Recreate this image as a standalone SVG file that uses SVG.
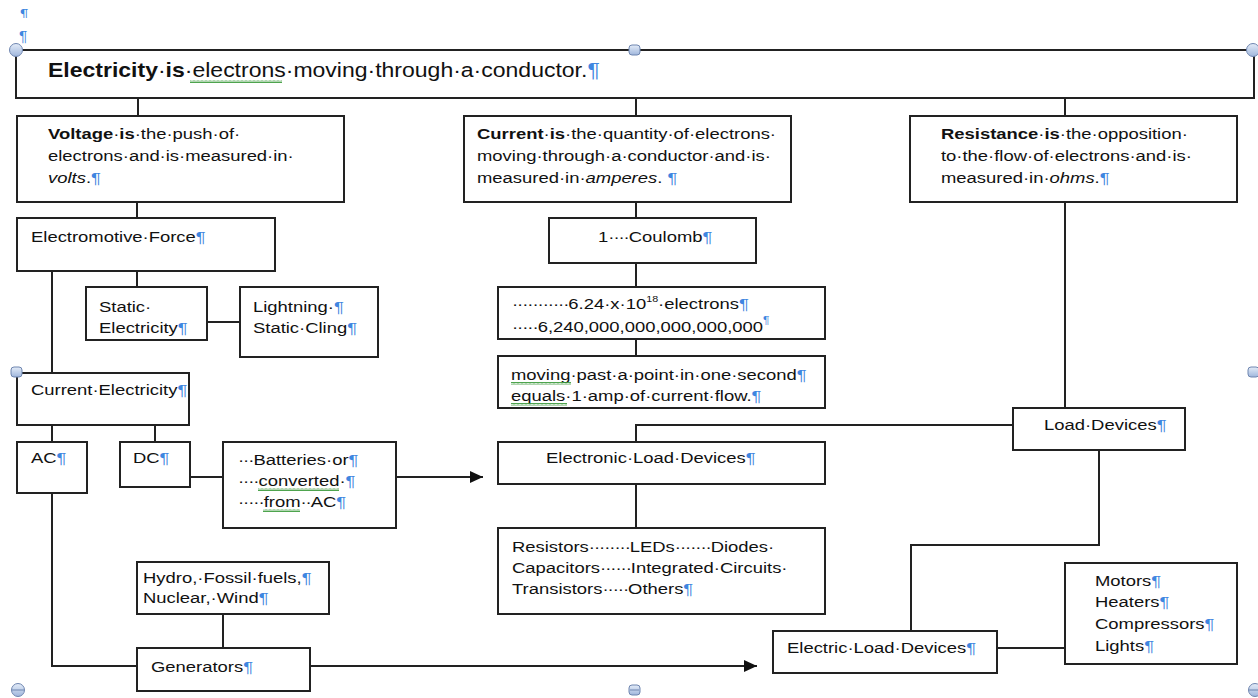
<svg xmlns="http://www.w3.org/2000/svg" width="1258" height="698" viewBox="0 0 1258 698">
<defs>
<style>
.box{fill:#fff;stroke:#222;stroke-width:2}
.ln{fill:none;stroke:#222;stroke-width:2}
text{font-family:"Liberation Sans",Arial,sans-serif;font-size:15.5px;fill:#111}
.t{font-size:19.5px}
.b{font-weight:bold}
.i{font-style:italic}
.p{fill:#3f86e0}
.d{letter-spacing:-0.85px}
.sq{fill:url(#sqp)}
.hc{fill:url(#hg);stroke:#6f86b0;stroke-width:1}
.hl{stroke:#6f86b0;stroke-width:1}
</style>
<marker id="ah" markerUnits="userSpaceOnUse" markerWidth="13" markerHeight="12" refX="13" refY="6" orient="auto"><path d="M0,0 L13,6 L0,12 z" fill="#111"/></marker>
<pattern id="sqp" width="4" height="3" patternUnits="userSpaceOnUse"><path d="M0,2.5 L1,0.5 L2,2.5 L3,0.5 L4,2.5" fill="none" stroke="#3a9a3a" stroke-width="0.9"/></pattern>
<linearGradient id="hg" x1="0" y1="0" x2="0" y2="1"><stop offset="0" stop-color="#e4ecf8"/><stop offset="1" stop-color="#9fb6dc"/></linearGradient>
<clipPath id="topclip"><rect x="0" y="8" width="60" height="10"/></clipPath>
</defs>
<rect width="1258" height="698" fill="#fff"/>

<g id="page-marks">
<text class="p" x="20" y="19" clip-path="url(#topclip)">¶</text>
<text class="p" x="19" y="41">¶</text>
</g>

<g id="connectors">
<path class="ln" d="M138,98 V116"/>
<path class="ln" d="M636,98 V116"/>
<path class="ln" d="M1065,98 V116"/>
<path class="ln" d="M137,202 V218"/>
<path class="ln" d="M52,271 V373"/>
<path class="ln" d="M137,271 V287"/>
<path class="ln" d="M207,322 H240"/>
<path class="ln" d="M52,425 V442"/>
<path class="ln" d="M155,425 V442"/>
<path class="ln" d="M190,477 H223"/>
<path class="ln" d="M396,477 H483" marker-end="url(#ah)"/>
<path class="ln" d="M52,493 V666 H137"/>
<path class="ln" d="M223,614 V648"/>
<path class="ln" d="M310,666 H757" marker-end="url(#ah)"/>
<path class="ln" d="M636,202 V218"/>
<path class="ln" d="M636,263 V287"/>
<path class="ln" d="M636,339 V356"/>
<path class="ln" d="M1065,202 V408"/>
<path class="ln" d="M1013,425 H636 V442"/>
<path class="ln" d="M636,484 V528"/>
<path class="ln" d="M1099,450 V545 H911 V631"/>
<path class="ln" d="M997,648 H1065"/>
</g>

<g id="electricity">
<rect class="box" x="16" y="50" width="1238" height="48"/>
<text class="t" transform="translate(48,77) scale(1.18 1)"><tspan class="b">Electricity</tspan>·<tspan class="b">is</tspan>·electrons·moving·through·a·conductor.<tspan class="p">¶</tspan></text>
<rect class="sq" x="190" y="80" width="92" height="3"/>
</g>

<g id="voltage">
<rect class="box" x="17" y="116" width="327" height="86"/>
<text transform="translate(48,139) scale(1.19 1)"><tspan x="0"><tspan class="b">Voltage</tspan>·<tspan class="b">is</tspan>·the·push·of·</tspan><tspan x="0" dy="22">electrons·and·is·measured·in·</tspan><tspan x="0" dy="22"><tspan class="i">volts</tspan>.<tspan class="p">¶</tspan></tspan></text>
</g>

<g id="current">
<rect class="box" x="464" y="116" width="327" height="86"/>
<text transform="translate(477,139) scale(1.19 1)"><tspan x="0"><tspan class="b">Current</tspan>·<tspan class="b">is</tspan>·the·quantity·of·electrons·</tspan><tspan x="0" dy="22">moving·through·a·conductor·and·is·</tspan><tspan x="0" dy="22">measured·in·<tspan class="i">amperes</tspan>.<tspan class="p"> ¶</tspan></tspan></text>
</g>

<g id="resistance">
<rect class="box" x="910" y="116" width="327" height="86"/>
<text transform="translate(941,139) scale(1.19 1)"><tspan x="0"><tspan class="b">Resistance</tspan>·<tspan class="b">is</tspan>·the·opposition·</tspan><tspan x="0" dy="22">to·the·flow·of·electrons·and·is·</tspan><tspan x="0" dy="22">measured·in·<tspan class="i">ohms</tspan>.<tspan class="p">¶</tspan></tspan></text>
</g>

<g id="emf">
<rect class="box" x="17" y="218" width="258" height="53"/>
<text transform="translate(31,242) scale(1.19 1)">Electromotive·Force<tspan class="p">¶</tspan></text>
</g>

<g id="static-electricity">
<rect class="box" x="86" y="287" width="121" height="53"/>
<text transform="translate(99,312) scale(1.19 1)"><tspan x="0">Static·</tspan><tspan x="0" dy="21">Electricity<tspan class="p">¶</tspan></tspan></text>
</g>

<g id="lightning">
<rect class="box" x="240" y="287" width="138" height="70"/>
<text transform="translate(253,312) scale(1.19 1)"><tspan x="0">Lightning·<tspan class="p">¶</tspan></tspan><tspan x="0" dy="21">Static·Cling<tspan class="p">¶</tspan></tspan></text>
</g>

<g id="current-electricity">
<rect class="box" x="17" y="373" width="172" height="52"/>
<text transform="translate(31,395) scale(1.19 1)">Current·Electricity<tspan class="p">¶</tspan></text>
</g>

<g id="ac">
<rect class="box" x="17" y="442" width="70" height="51"/>
<text transform="translate(31,463) scale(1.19 1)">AC<tspan class="p">¶</tspan></text>
</g>

<g id="dc">
<rect class="box" x="120" y="442" width="70" height="45"/>
<text transform="translate(133,463) scale(1.19 1)">DC<tspan class="p">¶</tspan></text>
</g>

<g id="batteries">
<rect class="box" x="223" y="442" width="173" height="86"/>
<text transform="translate(238,465) scale(1.19 1)"><tspan x="0"><tspan class="d">···</tspan>Batteries·or<tspan class="p">¶</tspan></tspan><tspan x="0" dy="21"><tspan class="d">····</tspan>converted·<tspan class="p">¶</tspan></tspan><tspan x="0" dy="21"><tspan class="d">·····</tspan>from<tspan class="d">··</tspan>AC<tspan class="p">¶</tspan></tspan></text>
<rect class="sq" x="258" y="488" width="81" height="3"/>
<rect class="sq" x="263" y="509" width="37" height="3"/>
</g>

<g id="coulomb">
<rect class="box" x="549" y="218" width="207" height="45"/>
<text transform="translate(598,242) scale(1.19 1)">1<tspan class="d">····</tspan>Coulomb<tspan class="p">¶</tspan></text>
</g>

<g id="electrons-count">
<rect class="box" x="498" y="287" width="327" height="52"/>
<text transform="translate(512,309) scale(1.19 1)"><tspan x="0"><tspan class="d">···········</tspan>6.24·x·10<tspan font-size="9" dy="-7">18</tspan><tspan dy="7">·electrons</tspan><tspan class="p">¶</tspan></tspan><tspan x="0" dy="23"><tspan class="d">·····</tspan>6,240,000,000,000,000,000<tspan class="p" font-size="10" dy="-8">¶</tspan></tspan></text>
</g>

<g id="amp-definition">
<rect class="box" x="498" y="356" width="327" height="52"/>
<text transform="translate(511,380) scale(1.19 1)"><tspan x="0">moving·past·a·point·in·one·second<tspan class="p">¶</tspan></tspan><tspan x="0" dy="21">equals·1·amp·of·current·flow.<tspan class="p">¶</tspan></tspan></text>
<rect class="sq" x="511" y="382" width="60" height="3"/>
<rect class="sq" x="511" y="403" width="56" height="3"/>
</g>

<g id="electronic-load-devices">
<rect class="box" x="498" y="442" width="327" height="42"/>
<text transform="translate(546,463) scale(1.19 1)">Electronic·Load·Devices<tspan class="p">¶</tspan></text>
</g>

<g id="electronic-components">
<rect class="box" x="498" y="528" width="327" height="86"/>
<text transform="translate(512,552) scale(1.19 1)"><tspan x="0">Resistors<tspan class="d">········</tspan>LEDs<tspan class="d">·······</tspan>Diodes·</tspan><tspan x="0" dy="21">Capacitors<tspan class="d">······</tspan>Integrated·Circuits·</tspan><tspan x="0" dy="21">Transistors<tspan class="d">·····</tspan>Others<tspan class="p">¶</tspan></tspan></text>
</g>

<g id="load-devices">
<rect class="box" x="1013" y="408" width="172" height="42"/>
<text transform="translate(1044,430) scale(1.19 1)">Load·Devices<tspan class="p">¶</tspan></text>
</g>

<g id="sources">
<rect class="box" x="137" y="562" width="192" height="52"/>
<text transform="translate(143,583) scale(1.19 1)"><tspan x="0">Hydro,·Fossil·fuels,<tspan class="p">¶</tspan></tspan><tspan x="0" dy="20">Nuclear,·Wind<tspan class="p">¶</tspan></tspan></text>
</g>

<g id="generators">
<rect class="box" x="137" y="648" width="173" height="43"/>
<text transform="translate(151,672) scale(1.19 1)">Generators<tspan class="p">¶</tspan></text>
</g>

<g id="electric-load-devices">
<rect class="box" x="773" y="631" width="224" height="42"/>
<text transform="translate(787,653) scale(1.19 1)">Electric·Load·Devices<tspan class="p">¶</tspan></text>
</g>

<g id="electric-loads">
<rect class="box" x="1065" y="563" width="172" height="101"/>
<text transform="translate(1095,586) scale(1.19 1)"><tspan x="0">Motors<tspan class="p">¶</tspan></tspan><tspan x="0" dy="21">Heaters<tspan class="p">¶</tspan></tspan><tspan x="0" dy="22">Compressors<tspan class="p">¶</tspan></tspan><tspan x="0" dy="22">Lights<tspan class="p">¶</tspan></tspan></text>
</g>

<g id="handles">
<circle class="hc" cx="16" cy="50" r="6.5"/>
<rect class="hc" x="629" y="45" width="11" height="10" rx="3"/>
<circle class="hc" cx="1253" cy="50" r="6.5"/>
<rect class="hc" x="11" y="367" width="11" height="10" rx="3"/>
<rect class="hc" x="1248" y="367" width="11" height="10" rx="3"/>
<circle class="hc" cx="18" cy="690" r="6.5"/>
<path class="hl" d="M12,690 H24"/>
<rect class="hc" x="629" y="685" width="11" height="10" rx="3"/>
<path class="hl" d="M630,690 H639"/>
<circle class="hc" cx="1255" cy="690" r="6.5"/>
<path class="hl" d="M1249,690 H1258"/>
</g>
</svg>
